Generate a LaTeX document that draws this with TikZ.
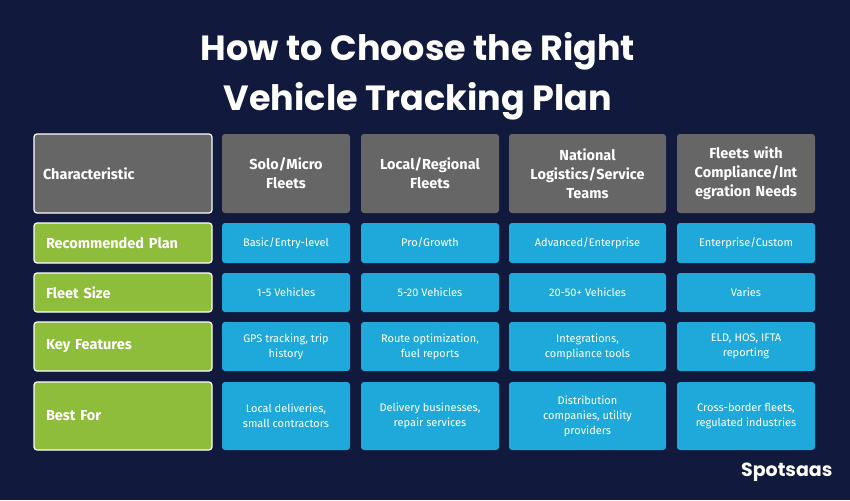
\documentclass[tikz,border=0pt]{standalone}
\usepackage{fontspec}
\setmainfont{Fira Sans}
\newfontfamily\titlefont{Poppins}
\usetikzlibrary{positioning}
\definecolor{navy}{HTML}{111A3D}
\definecolor{headgray}{HTML}{666666}
\definecolor{leafgreen}{HTML}{8EBC3B}
\definecolor{skyblue}{HTML}{1FA9DA}
\tikzset{
  cell/.style={rectangle, rounded corners=3pt, align=center, text=white, inner sep=2pt},
  headcell/.style={cell, fill=headgray, font=\fontsize{14.5}{19}\selectfont\bfseries},
  rowcell/.style={cell, fill=leafgreen, draw=white, line width=1.2pt, text width=154pt, align=left, font=\fontsize{14.5}{17}\selectfont\bfseries},
  datacell/.style={cell, fill=skyblue, font=\fontsize{11}{15}\selectfont}
}
% box from corners (x1,y1) to (x2,y2), pixel units
\newcommand{\cellbox}[7]{%
  \node[#6, minimum width={#3-#2}, minimum height={#5-#4}] (#1) at ({(#2+#3)/2},{(#4+#5)/2}) {#7};}
\begin{document}
\begin{tikzpicture}[x=1pt,y=-1pt]
  \fill[navy] (0,0) rectangle (850,500);
  \useasboundingbox (0,0) rectangle (850,500);

  \node[text=white, align=center, font=\titlefont\fontsize{35}{50}\selectfont\bfseries] (title) at (418,76) {How to Choose the Right\\Vehicle Tracking Plan};

  % header row
  \cellbox{hchar}{34}{212}{134}{213}{headcell, draw=white, line width=1.2pt, text width=160pt, align=left}{Characteristic}
  \cellbox{hsolo}{222}{350}{134}{213}{headcell, text width=120pt}{Solo/Micro\\Fleets}
  \cellbox{hlocal}{361}{499}{134}{213}{headcell, text width=130pt}{Local/Regional\\Fleets}
  \cellbox{hnat}{509}{666}{134}{213}{headcell, text width=150pt}{National\\Logistics/Service\\Teams}
  \cellbox{hcomp}{677}{815}{134}{213}{headcell, text width=134pt}{Fleets with\\Compliance/Int\\egration Needs}

  % recommended plan
  \cellbox{rplan}{34}{212}{223}{263}{rowcell}{Recommended Plan}
  \cellbox{psolo}{222}{350}{223}{263}{datacell}{Basic/Entry-level}
  \cellbox{plocal}{361}{499}{223}{263}{datacell}{Pro/Growth}
  \cellbox{pnat}{509}{666}{223}{263}{datacell}{Advanced/Enterprise}
  \cellbox{pcomp}{677}{815}{223}{263}{datacell}{Enterprise/Custom}

  % fleet size
  \cellbox{rsize}{34}{212}{273}{312}{rowcell}{Fleet Size}
  \cellbox{ssolo}{222}{350}{273}{312}{datacell}{1-5 Vehicles}
  \cellbox{slocal}{361}{499}{273}{312}{datacell}{5-20 Vehicles}
  \cellbox{snat}{509}{666}{273}{312}{datacell}{20-50+ Vehicles}
  \cellbox{scomp}{677}{815}{273}{312}{datacell}{Varies}

  % key features
  \cellbox{rfeat}{34}{212}{322}{371}{rowcell}{Key Features}
  \cellbox{fsolo}{222}{350}{322}{371}{datacell}{GPS tracking, trip\\history}
  \cellbox{flocal}{361}{499}{322}{371}{datacell}{Route optimization,\\fuel reports}
  \cellbox{fnat}{509}{666}{322}{371}{datacell}{Integrations,\\compliance tools}
  \cellbox{fcomp}{677}{815}{322}{371}{datacell}{ELD, HOS, IFTA\\reporting}

  % best for
  \cellbox{rbest}{34}{212}{382}{450}{rowcell}{Best For}
  \cellbox{bsolo}{222}{350}{382}{450}{datacell}{Local deliveries,\\small contractors}
  \cellbox{blocal}{361}{499}{382}{450}{datacell}{Delivery businesses,\\repair services}
  \cellbox{bnat}{509}{666}{382}{450}{datacell}{Distribution\\companies, utility\\providers}
  \cellbox{bcomp}{677}{815}{382}{450}{datacell}{Cross-border fleets,\\regulated industries}

  \node[text=white, anchor=east, font=\titlefont\fontsize{19}{22}\selectfont\bfseries] (logo) at (836,472) {Spotsaas};
\end{tikzpicture}
\end{document}
